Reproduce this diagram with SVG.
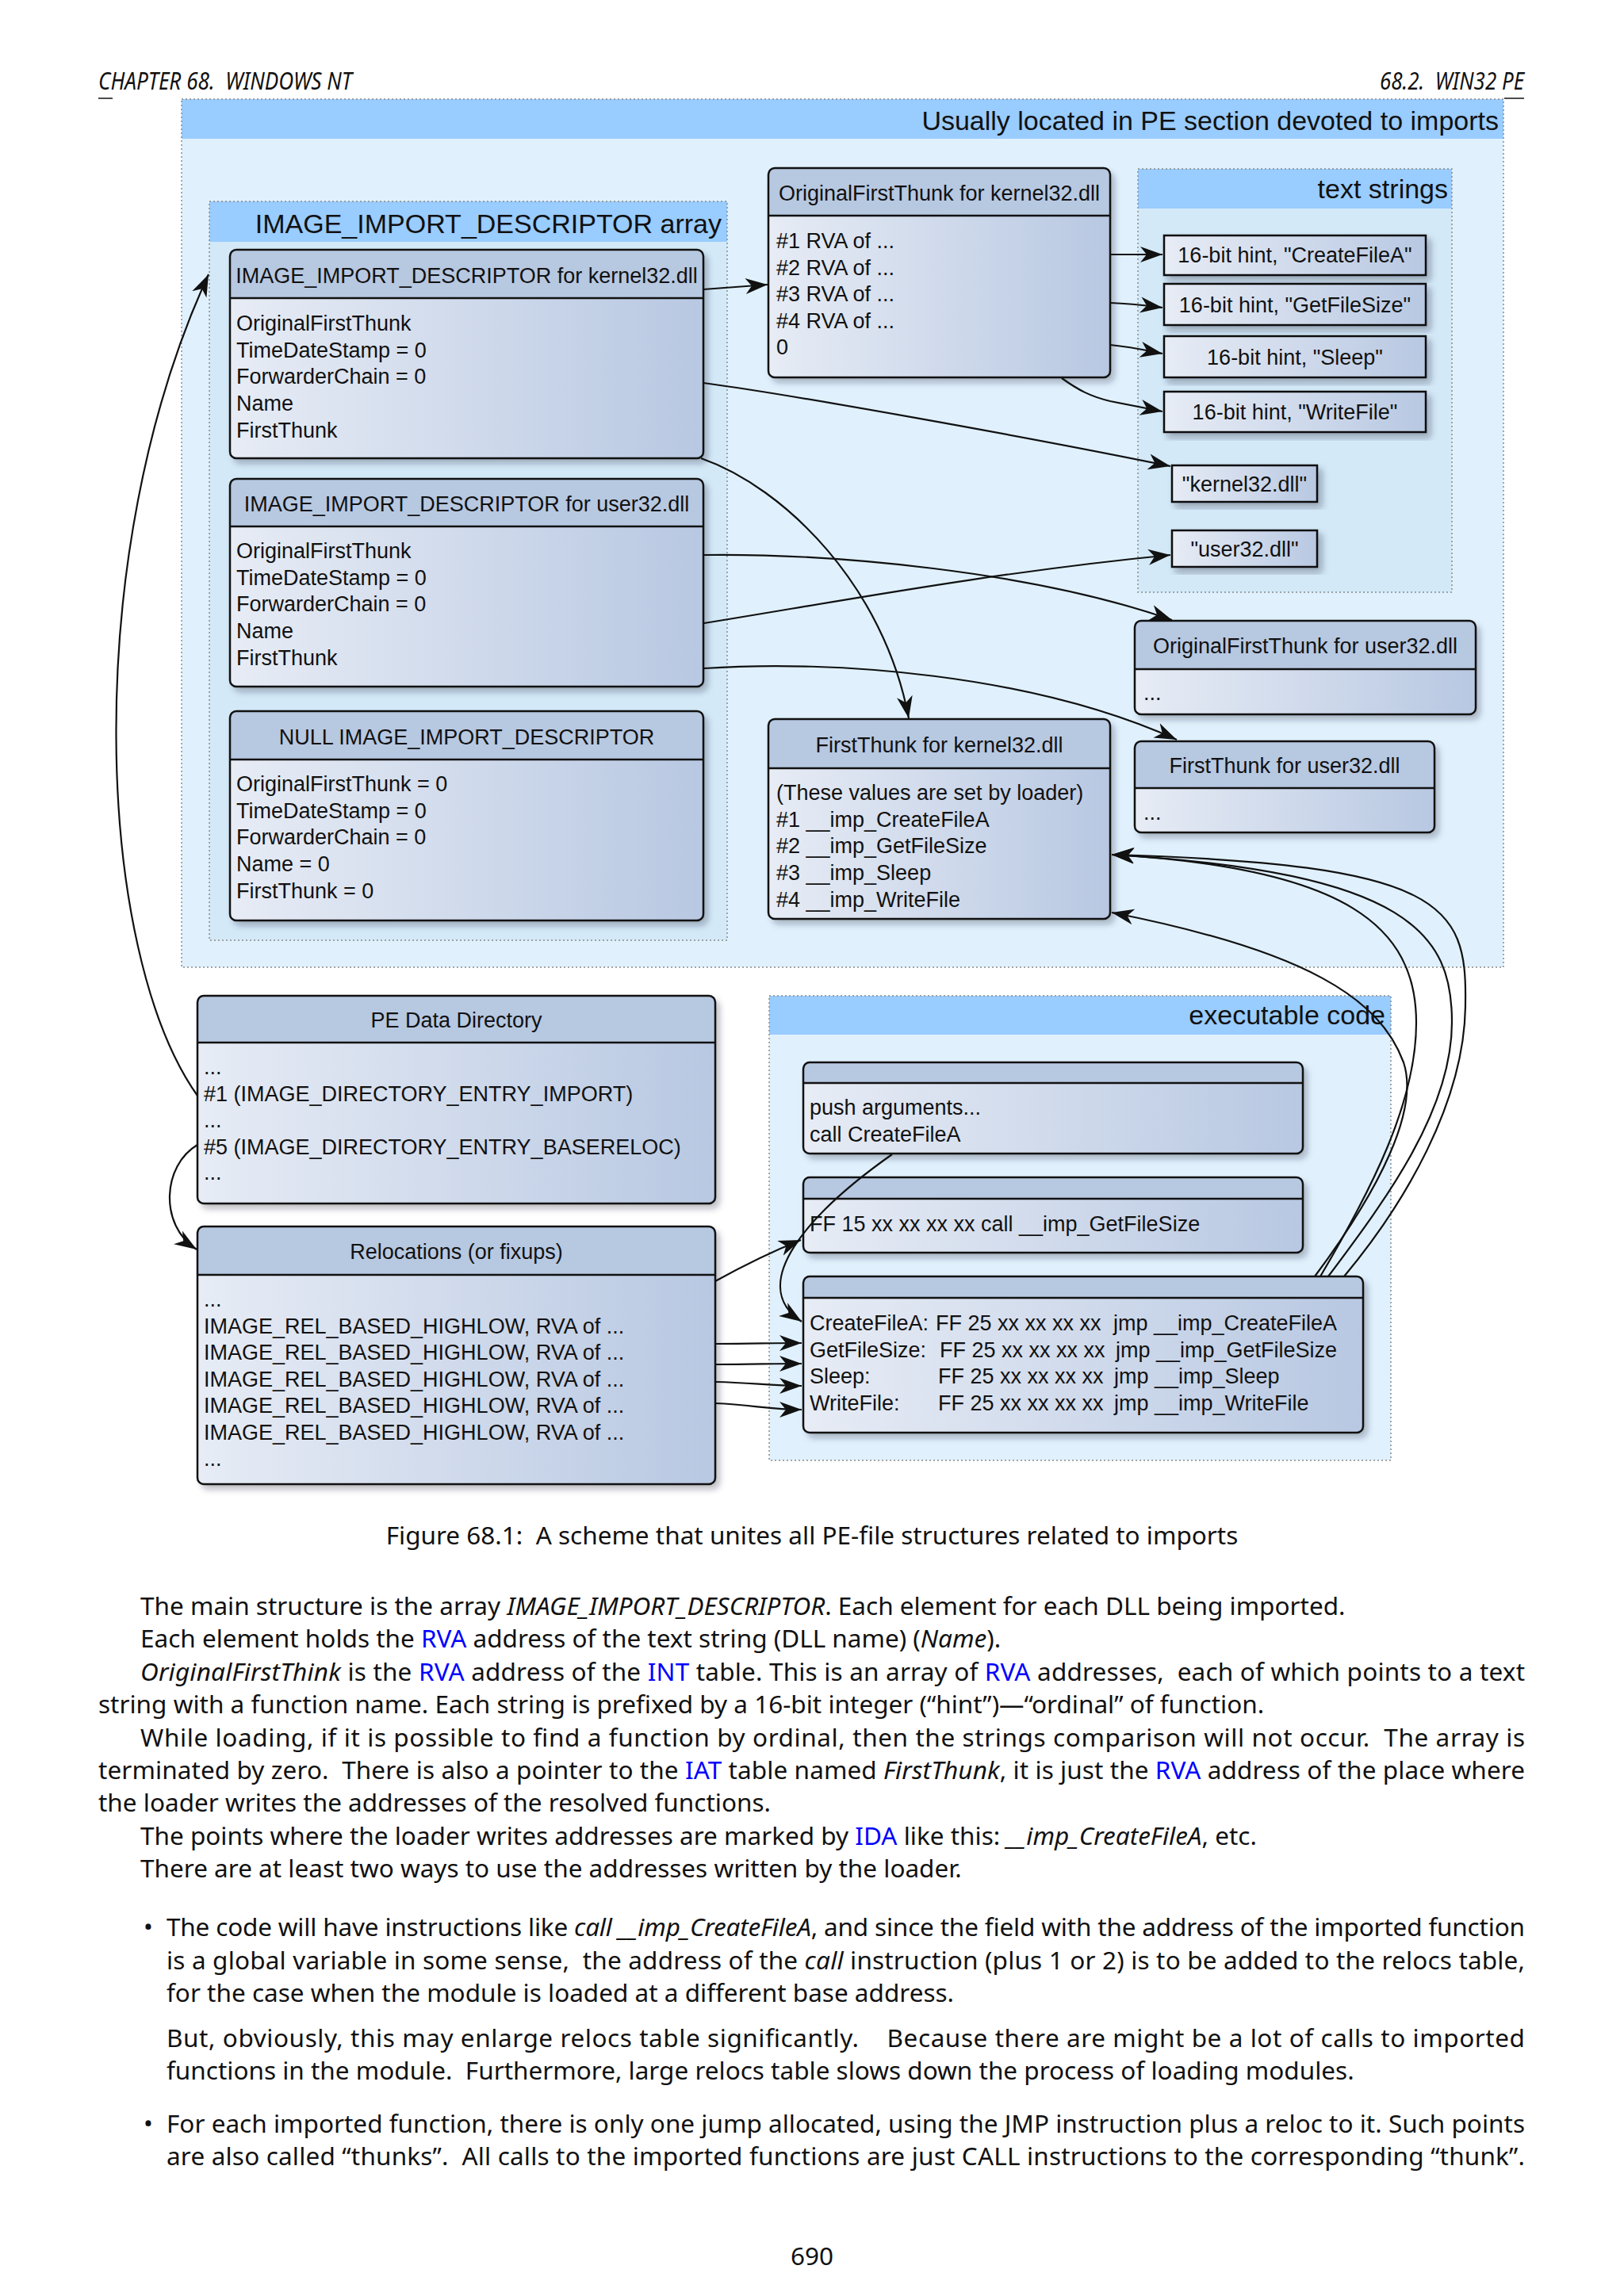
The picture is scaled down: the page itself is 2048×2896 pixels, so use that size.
<svg xmlns="http://www.w3.org/2000/svg" width="2048" height="2896" viewBox="0 0 2048 2896">
<defs>
<style>
.nb{fill:url(#gb);filter:url(#sh);}
.nh{fill:#B7C8E1;}
.nd{stroke:#111;stroke-width:2.5;}
.no{fill:none;stroke:#111;stroke-width:2.5;}
.sb{fill:url(#gb);stroke:#111;stroke-width:2.5;filter:url(#sh);}
.t{font-family:"Liberation Sans",Arial,sans-serif;font-size:27px;fill:#111;}
.tc{text-anchor:middle;}
.ct{font-family:"Liberation Sans",Arial,sans-serif;font-size:34px;fill:#111;text-anchor:end;}
.cbg{fill:#E0F1FD;}
.cbg2{fill:#D3E9F7;}
.chd{fill:#99CCFF;}
.cbd{fill:none;stroke:#8A8A8A;stroke-width:1.5;stroke-dasharray:2 3;}
.pg{font-family:"Noto Sans","DejaVu Sans",sans-serif;font-size:31.5px;fill:#111;white-space:pre;}
.it{font-style:italic;}
.ln{fill:#0000FF;}
</style>
<linearGradient id="gb" x1="0" y1="0" x2="1" y2="0">
<stop offset="0" stop-color="#E7ECF5"/>
<stop offset="1" stop-color="#B8C8E2"/>
</linearGradient>
<filter id="sh" x="-10%" y="-10%" width="125%" height="130%">
<feDropShadow dx="5" dy="6" stdDeviation="4" flood-color="#223" flood-opacity="0.33"/>
</filter>
<marker id="arr" markerUnits="userSpaceOnUse" markerWidth="30" markerHeight="22" refX="28" refY="11" orient="auto">
<path d="M0,1 L28,11 L0,21 L8,11 Z" fill="#111"/>
</marker>
</defs>

<rect x="0" y="0" width="2048" height="2896" fill="#FFFFFF"/>

<!-- page header -->
<g id="page-header" xml:space="preserve">
<text x="124" y="113" class="pg it" font-size="26" textLength="320" lengthAdjust="spacingAndGlyphs">CHAPTER 68.  WINDOWS NT</text>
<text x="1740" y="113" class="pg it" font-size="26" textLength="182" lengthAdjust="spacingAndGlyphs">68.2.  WIN32 PE</text>
<line x1="124" y1="124" x2="142" y2="124" stroke="#111" stroke-width="1.5"/>
<line x1="1897" y1="124" x2="1922" y2="124" stroke="#111" stroke-width="1.5"/>
</g>

<!-- containers -->
<g id="container-imports">
<rect x="229" y="125" width="1667" height="1095" class="cbg"/>
<rect x="229" y="125" width="1667" height="50" class="chd"/>
<rect x="229" y="125" width="1667" height="1095" class="cbd"/>
<text x="1890" y="164" class="ct">Usually located in PE section devoted to imports</text>
</g>
<g id="container-iid-array">
<rect x="264" y="254" width="653" height="932" class="cbg2"/>
<rect x="264" y="254" width="653" height="51" class="chd"/>
<rect x="264" y="254" width="653" height="932" class="cbd"/>
<text x="910" y="294" class="ct">IMAGE_IMPORT_DESCRIPTOR array</text>
</g>
<g id="container-text-strings">
<rect x="1435" y="213" width="396" height="534" class="cbg2"/>
<rect x="1435" y="213" width="396" height="50" class="chd"/>
<rect x="1435" y="213" width="396" height="534" class="cbd"/>
<text x="1826" y="250" class="ct">text strings</text>
</g>
<g id="container-exec">
<rect x="970" y="1256" width="784" height="586" class="cbg"/>
<rect x="970" y="1256" width="784" height="49" class="chd"/>
<rect x="970" y="1256" width="784" height="586" class="cbd"/>
<text x="1747" y="1292" class="ct">executable code</text>
</g>

<!-- nodes -->
<g id="node-iid-kernel32">
<rect x="290" y="315" width="597" height="263" rx="8" class="nb"/>
<path d="M290,376 V323 Q290,315 298,315 H879 Q887,315 887,323 V376 Z" class="nh"/>
<line x1="290" y1="376" x2="887" y2="376" class="nd"/>
<rect x="290" y="315" width="597" height="263" rx="8" class="no"/>
<text x="588.5" y="357" class="t tc">IMAGE_IMPORT_DESCRIPTOR for kernel32.dll</text>
<text class="t"><tspan x="298" y="417">OriginalFirstThunk</tspan><tspan x="298" y="450.7">TimeDateStamp = 0</tspan><tspan x="298" y="484.4">ForwarderChain = 0</tspan><tspan x="298" y="518.1">Name</tspan><tspan x="298" y="551.8">FirstThunk</tspan></text>
</g>

<g id="node-iid-user32">
<rect x="290" y="604" width="597" height="262" rx="8" class="nb"/>
<path d="M290,664 V612 Q290,604 298,604 H879 Q887,604 887,612 V664 Z" class="nh"/>
<line x1="290" y1="664" x2="887" y2="664" class="nd"/>
<rect x="290" y="604" width="597" height="262" rx="8" class="no"/>
<text x="588.5" y="645" class="t tc">IMAGE_IMPORT_DESCRIPTOR for user32.dll</text>
<text class="t"><tspan x="298" y="704">OriginalFirstThunk</tspan><tspan x="298" y="737.7">TimeDateStamp = 0</tspan><tspan x="298" y="771.4">ForwarderChain = 0</tspan><tspan x="298" y="805.1">Name</tspan><tspan x="298" y="838.8">FirstThunk</tspan></text>
</g>

<g id="node-iid-null">
<rect x="290" y="897" width="597" height="264" rx="8" class="nb"/>
<path d="M290,958 V905 Q290,897 298,897 H879 Q887,897 887,905 V958 Z" class="nh"/>
<line x1="290" y1="958" x2="887" y2="958" class="nd"/>
<rect x="290" y="897" width="597" height="264" rx="8" class="no"/>
<text x="588.5" y="939" class="t tc">NULL IMAGE_IMPORT_DESCRIPTOR</text>
<text class="t"><tspan x="298" y="998">OriginalFirstThunk = 0</tspan><tspan x="298" y="1031.7">TimeDateStamp = 0</tspan><tspan x="298" y="1065.4">ForwarderChain = 0</tspan><tspan x="298" y="1099.1">Name = 0</tspan><tspan x="298" y="1132.8">FirstThunk = 0</tspan></text>
</g>

<g id="node-oft-kernel32">
<rect x="969" y="212" width="431" height="264" rx="8" class="nb"/>
<path d="M969,272 V220 Q969,212 977,212 H1392 Q1400,212 1400,220 V272 Z" class="nh"/>
<line x1="969" y1="272" x2="1400" y2="272" class="nd"/>
<rect x="969" y="212" width="431" height="264" rx="8" class="no"/>
<text x="1184.5" y="253" class="t tc">OriginalFirstThunk for kernel32.dll</text>
<text class="t"><tspan x="979" y="313">#1 RVA of ...</tspan><tspan x="979" y="346.5">#2 RVA of ...</tspan><tspan x="979" y="380">#3 RVA of ...</tspan><tspan x="979" y="413.5">#4 RVA of ...</tspan><tspan x="979" y="447">0</tspan></text>
</g>

<g id="node-ft-kernel32">
<rect x="969" y="907" width="431" height="252" rx="8" class="nb"/>
<path d="M969,969 V915 Q969,907 977,907 H1392 Q1400,907 1400,915 V969 Z" class="nh"/>
<line x1="969" y1="969" x2="1400" y2="969" class="nd"/>
<rect x="969" y="907" width="431" height="252" rx="8" class="no"/>
<text x="1184.5" y="949" class="t tc">FirstThunk for kernel32.dll</text>
<text class="t"><tspan x="979" y="1009">(These values are set by loader)</tspan><tspan x="979" y="1042.7">#1 __imp_CreateFileA</tspan><tspan x="979" y="1076.4">#2 __imp_GetFileSize</tspan><tspan x="979" y="1110.1">#3 __imp_Sleep</tspan><tspan x="979" y="1143.8">#4 __imp_WriteFile</tspan></text>
</g>

<g id="node-oft-user32">
<rect x="1431" y="783" width="430" height="118" rx="8" class="nb"/>
<path d="M1431,844 V791 Q1431,783 1439,783 H1853 Q1861,783 1861,791 V844 Z" class="nh"/>
<line x1="1431" y1="844" x2="1861" y2="844" class="nd"/>
<rect x="1431" y="783" width="430" height="118" rx="8" class="no"/>
<text x="1646" y="824" class="t tc">OriginalFirstThunk for user32.dll</text>
<text x="1442" y="883" class="t">...</text>
</g>

<g id="node-ft-user32">
<rect x="1431" y="935" width="378" height="115" rx="8" class="nb"/>
<path d="M1431,994 V943 Q1431,935 1439,935 H1801 Q1809,935 1809,943 V994 Z" class="nh"/>
<line x1="1431" y1="994" x2="1809" y2="994" class="nd"/>
<rect x="1431" y="935" width="378" height="115" rx="8" class="no"/>
<text x="1620" y="975" class="t tc">FirstThunk for user32.dll</text>
<text x="1442" y="1034" class="t">...</text>
</g>

<g id="node-str-createfilea">
<rect x="1468" y="297" width="330" height="50" class="sb"/>
<text x="1633" y="331" class="t tc">16-bit hint, "CreateFileA"</text>
</g>
<g id="node-str-getfilesize">
<rect x="1468" y="358" width="330" height="52" class="sb"/>
<text x="1633" y="393.5" class="t tc">16-bit hint, "GetFileSize"</text>
</g>
<g id="node-str-sleep">
<rect x="1468" y="424" width="330" height="52" class="sb"/>
<text x="1633" y="459.5" class="t tc">16-bit hint, "Sleep"</text>
</g>
<g id="node-str-writefile">
<rect x="1468" y="494" width="330" height="51" class="sb"/>
<text x="1633" y="529" class="t tc">16-bit hint, "WriteFile"</text>
</g>
<g id="node-str-kernel32">
<rect x="1478" y="587" width="183" height="46" class="sb"/>
<text x="1569.5" y="619.5" class="t tc">"kernel32.dll"</text>
</g>
<g id="node-str-user32">
<rect x="1478" y="669" width="183" height="46" class="sb"/>
<text x="1569.5" y="701.5" class="t tc">"user32.dll"</text>
</g>

<g id="node-pe-data-dir">
<rect x="249" y="1256" width="653" height="262" rx="8" class="nb"/>
<path d="M249,1315 V1264 Q249,1256 257,1256 H894 Q902,1256 902,1264 V1315 Z" class="nh"/>
<line x1="249" y1="1315" x2="902" y2="1315" class="nd"/>
<rect x="249" y="1256" width="653" height="262" rx="8" class="no"/>
<text x="575.5" y="1296" class="t tc">PE Data Directory</text>
<text class="t"><tspan x="257" y="1355">...</tspan><tspan x="257" y="1389">#1 (IMAGE_DIRECTORY_ENTRY_IMPORT)</tspan><tspan x="257" y="1422">...</tspan><tspan x="257" y="1456">#5 (IMAGE_DIRECTORY_ENTRY_BASERELOC)</tspan><tspan x="257" y="1488">...</tspan></text>
</g>

<g id="node-relocs">
<rect x="249" y="1547" width="653" height="325" rx="8" class="nb"/>
<path d="M249,1608 V1555 Q249,1547 257,1547 H894 Q902,1547 902,1555 V1608 Z" class="nh"/>
<line x1="249" y1="1608" x2="902" y2="1608" class="nd"/>
<rect x="249" y="1547" width="653" height="325" rx="8" class="no"/>
<text x="575.5" y="1588" class="t tc">Relocations (or fixups)</text>
<text class="t"><tspan x="257" y="1648">...</tspan><tspan x="257" y="1681.5">IMAGE_REL_BASED_HIGHLOW, RVA of ...</tspan><tspan x="257" y="1715">IMAGE_REL_BASED_HIGHLOW, RVA of ...</tspan><tspan x="257" y="1748.5">IMAGE_REL_BASED_HIGHLOW, RVA of ...</tspan><tspan x="257" y="1782">IMAGE_REL_BASED_HIGHLOW, RVA of ...</tspan><tspan x="257" y="1815.5">IMAGE_REL_BASED_HIGHLOW, RVA of ...</tspan><tspan x="257" y="1849">...</tspan></text>
</g>

<g id="node-code-call">
<rect x="1013" y="1340" width="630" height="115" rx="8" class="nb"/>
<path d="M1013,1366 V1348 Q1013,1340 1021,1340 H1635 Q1643,1340 1643,1348 V1366 Z" class="nh"/>
<line x1="1013" y1="1366" x2="1643" y2="1366" class="nd"/>
<rect x="1013" y="1340" width="630" height="115" rx="8" class="no"/>
<text class="t"><tspan x="1021" y="1406">push arguments...</tspan><tspan x="1021" y="1440">call CreateFileA</tspan></text>
</g>

<g id="node-code-callimp">
<rect x="1013" y="1485" width="630" height="95" rx="8" class="nb"/>
<path d="M1013,1512 V1493 Q1013,1485 1021,1485 H1635 Q1643,1485 1643,1493 V1512 Z" class="nh"/>
<line x1="1013" y1="1512" x2="1643" y2="1512" class="nd"/>
<rect x="1013" y="1485" width="630" height="95" rx="8" class="no"/>
<text x="1021" y="1553" class="t">FF 15 xx xx xx xx call __imp_GetFileSize</text>
</g>

<g id="node-code-thunks">
<rect x="1013" y="1610" width="706" height="197" rx="8" class="nb"/>
<path d="M1013,1637 V1618 Q1013,1610 1021,1610 H1711 Q1719,1610 1719,1618 V1637 Z" class="nh"/>
<line x1="1013" y1="1637" x2="1719" y2="1637" class="nd"/>
<rect x="1013" y="1610" width="706" height="197" rx="8" class="no"/>
<text class="t"><tspan x="1021" y="1678">CreateFileA:</tspan><tspan x="1180" y="1678">FF 25 xx xx xx xx</tspan><tspan x="1404" y="1678">jmp __imp_CreateFileA</tspan></text>
<text class="t"><tspan x="1021" y="1711.5">GetFileSize:</tspan><tspan x="1185" y="1711.5">FF 25 xx xx xx xx</tspan><tspan x="1407" y="1711.5">jmp __imp_GetFileSize</tspan></text>
<text class="t"><tspan x="1021" y="1745">Sleep:</tspan><tspan x="1183" y="1745">FF 25 xx xx xx xx</tspan><tspan x="1405" y="1745">jmp __imp_Sleep</tspan></text>
<text class="t"><tspan x="1021" y="1778.5">WriteFile:</tspan><tspan x="1183" y="1778.5">FF 25 xx xx xx xx</tspan><tspan x="1405" y="1778.5">jmp __imp_WriteFile</tspan></text>
</g>

<!-- connectors -->
<g id="connectors" fill="none" stroke="#111" stroke-width="2.2" marker-end="url(#arr)">
<path d="M249,1382 C120,1200 100,700 263,346"/>
<path d="M249,1444 C205,1470 200,1545 248,1576"/>
<path d="M902,1616 C940,1595 975,1578 1010,1564"/>
<path d="M902,1695 C950,1695 970,1694 1011,1694"/>
<path d="M902,1721 C950,1721 970,1720 1011,1720"/>
<path d="M902,1743 C950,1744 970,1748 1011,1748"/>
<path d="M902,1770 C950,1772 970,1778 1011,1778"/>
<path d="M1125,1456 C1020,1530 940,1620 1011,1667"/>
<path d="M887,365 L968,359"/>
<path d="M887,483 C1000,498 1300,552 1476,588"/>
<path d="M884,578 C990,615 1115,740 1146,906"/>
<path d="M1400,321 L1466,321"/>
<path d="M1400,382 C1430,383 1450,386 1466,388"/>
<path d="M1400,435 C1430,438 1450,443 1466,446"/>
<path d="M1339,477 C1360,492 1375,500 1400,506 C1430,512 1450,516 1466,519"/>
<path d="M888,700 C1050,698 1300,720 1478,782"/>
<path d="M888,786 C1050,760 1250,722 1476,700"/>
<path d="M888,843 C1050,832 1300,850 1484,933"/>
<path d="M1658,1610 C1740,1500 1790,1400 1770,1340 C1740,1260 1650,1200 1402,1151"/>
<path d="M1665,1610 C1730,1500 1786,1390 1786,1290 C1786,1170 1700,1095 1402,1078"/>
<path d="M1675,1610 C1750,1510 1831,1400 1831,1289 C1831,1180 1780,1100 1402,1078"/>
<path d="M1695,1610 C1770,1520 1848,1390 1848,1265 C1850,1140 1820,1090 1402,1078"/>
</g>

<!-- page text -->
<g id="page-text" xml:space="preserve">
<text x="1024" y="1948" class="pg" text-anchor="middle">Figure 68.1:  A scheme that unites all PE-file structures related to imports</text>
<text x="177" y="2037" class="pg">The main structure is the array <tspan class="it">IMAGE_IMPORT_DESCRIPTOR</tspan>. Each element for each DLL being imported.</text>
<text x="177" y="2078.4" class="pg">Each element holds the <tspan class="ln">RVA</tspan> address of the text string (DLL name) (<tspan class="it">Name</tspan>).</text>
<text x="177" y="2119.8" class="pg" textLength="1746" lengthAdjust="spacing"><tspan class="it">OriginalFirstThink</tspan> is the <tspan class="ln">RVA</tspan> address of the <tspan class="ln">INT</tspan> table. This is an array of <tspan class="ln">RVA</tspan> addresses,  each of which points to a text</text>
<text x="124" y="2161.2" class="pg">string with a function name. Each string is prefixed by a 16-bit integer (“hint”)—“ordinal” of function.</text>
<text x="177" y="2202.6" class="pg" textLength="1746" lengthAdjust="spacing">While loading, if it is possible to find a function by ordinal, then the strings comparison will not occur.  The array is</text>
<text x="124" y="2244" class="pg" textLength="1799" lengthAdjust="spacing">terminated by zero.  There is also a pointer to the <tspan class="ln">IAT</tspan> table named <tspan class="it">FirstThunk</tspan>, it is just the <tspan class="ln">RVA</tspan> address of the place where</text>
<text x="124" y="2285.4" class="pg">the loader writes the addresses of the resolved functions.</text>
<text x="177" y="2326.8" class="pg">The points where the loader writes addresses are marked by <tspan class="ln">IDA</tspan> like this: <tspan class="it">__imp_CreateFileA</tspan>, etc.</text>
<text x="177" y="2368.2" class="pg">There are at least two ways to use the addresses written by the loader.</text>

<text x="181" y="2442" class="pg" font-size="26">•</text>
<text x="210" y="2442" class="pg" textLength="1713" lengthAdjust="spacing">The code will have instructions like <tspan class="it">call __imp_CreateFileA</tspan>, and since the field with the address of the imported function</text>
<text x="210" y="2484" class="pg" textLength="1713" lengthAdjust="spacing">is a global variable in some sense,  the address of the <tspan class="it">call</tspan> instruction (plus 1 or 2) is to be added to the relocs table,</text>
<text x="210" y="2525" class="pg">for the case when the module is loaded at a different base address.</text>
<text x="210" y="2582" class="pg" textLength="1713" lengthAdjust="spacing">But, obviously, this may enlarge relocs table significantly.    Because there are might be a lot of calls to imported</text>
<text x="210" y="2623" class="pg">functions in the module.  Furthermore, large relocs table slows down the process of loading modules.</text>
<text x="181" y="2690" class="pg" font-size="26">•</text>
<text x="210" y="2690" class="pg" textLength="1713" lengthAdjust="spacing">For each imported function, there is only one jump allocated, using the JMP instruction plus a reloc to it. Such points</text>
<text x="210" y="2731" class="pg" textLength="1713" lengthAdjust="spacing">are also called “thunks”.  All calls to the imported functions are just CALL instructions to the corresponding “thunk”.</text>
<text x="1024" y="2857" class="pg" text-anchor="middle" font-size="29">690</text>
</g>
</svg>
